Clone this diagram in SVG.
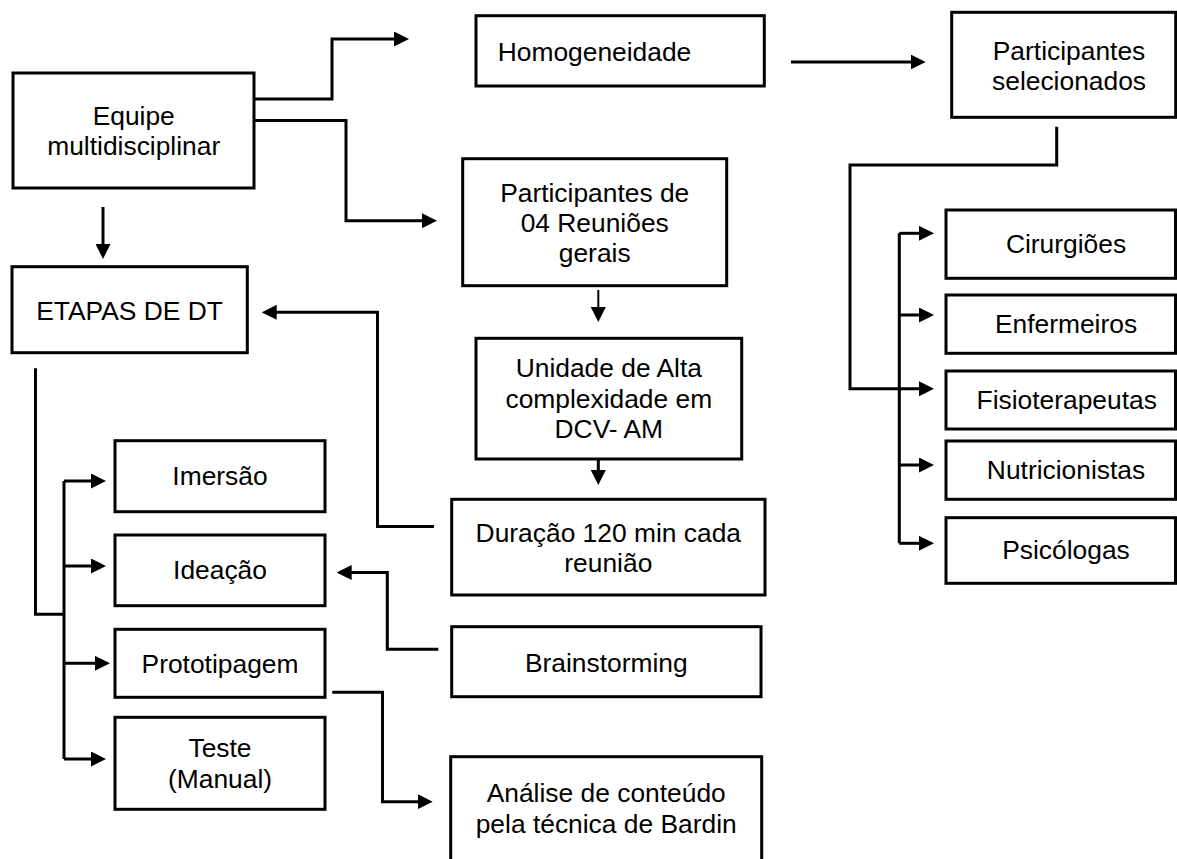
<svg xmlns="http://www.w3.org/2000/svg" width="1177" height="859" viewBox="0 0 1177 859">
<style>
.box{fill:#fff;stroke:#000;stroke-width:3}
.t{font-family:"Liberation Sans",Arial,sans-serif;font-size:25px;fill:#000;text-anchor:middle}
.ts{font-family:"Liberation Sans",Arial,sans-serif;font-size:25px;fill:#000;text-anchor:start}
.c{fill:none;stroke:#000;stroke-width:3;marker-end:url(#ah)}
.cn{fill:none;stroke:#000;stroke-width:3}
.thin{fill:none;stroke:#000;stroke-width:2;marker-end:url(#ah)}
</style>
<defs>
<marker id="ah" markerUnits="userSpaceOnUse" viewBox="0 0 15 15" markerWidth="15" markerHeight="15" refX="5" refY="7.5" orient="auto">
<path d="M0,0 L15,7.5 L0,15 Z" fill="#000"/>
</marker>
</defs>
<rect width="1177" height="859" fill="#fff"/>
<g id="connectors">
<path class="c" d="M254,99 H332 V39 H399"/>
<path class="c" d="M254,120.5 H346 V220.7 H427"/>
<path class="c" d="M103,207 V249"/>
<path class="c" d="M791,62 H915.7"/>
<path class="thin" d="M598.3,290 V312"/>
<path class="c" d="M598.3,459 V475"/>
<path class="c" d="M434,526.5 H377.5 V312.3 H271.7"/>
<path class="c" d="M438.3,649.3 H387.3 V572.5 H346.7"/>
<path class="c" d="M332.3,692.3 H382.5 V801.7 H422.7"/>
<path class="cn" d="M35.5,368.3 V614.3 H64"/>
<path class="cn" d="M64,481 V759"/>
<path class="c" d="M64,481 H96"/>
<path class="c" d="M64,566 H96"/>
<path class="c" d="M64,663.3 H100"/>
<path class="c" d="M64,759 H96"/>
<path class="c" d="M1056.7,126.7 V165 H850 V388.8 H924"/>
<path class="cn" d="M899.3,233.3 V543.3"/>
<path class="c" d="M899.3,233.3 H924"/>
<path class="c" d="M899.3,315 H924"/>
<path class="c" d="M899.3,465 H924"/>
<path class="c" d="M899.3,543.3 H924"/>
</g>
<g id="equipe">
<rect class="box" x="13" y="73" width="241" height="115"/>
<text class="t" transform="translate(133.7 0) scale(1.056 1)"><tspan x="0" y="125">Equipe</tspan><tspan x="0" y="155">multidisciplinar</tspan></text>
</g>
<g id="homogeneidade">
<rect class="box" x="476" y="15.7" width="288.3" height="70.3"/>
<text class="ts" transform="translate(497.7 0) scale(1.056 1)" x="0" y="61">Homogeneidade</text>
</g>
<g id="participantes-selecionados">
<rect class="box" x="951.7" y="12.3" width="224" height="105"/>
<text class="t" transform="translate(1069 0) scale(1.056 1)"><tspan x="0" y="60">Participantes</tspan><tspan x="0" y="90">selecionados</tspan></text>
</g>
<g id="participantes-reunioes">
<rect class="box" x="462.7" y="158.7" width="264" height="127"/>
<text class="t" transform="translate(594.7 0) scale(1.056 1)"><tspan x="0" y="201.7">Participantes de</tspan><tspan x="0" y="231.7">04 Reuniões</tspan><tspan x="0" y="261.7">gerais</tspan></text>
</g>
<g id="unidade">
<rect class="box" x="476" y="338.3" width="265.7" height="120.7"/>
<text class="t" transform="translate(608.8 0) scale(1.056 1)"><tspan x="0" y="377.3">Unidade de Alta</tspan><tspan x="0" y="407.7">complexidade em</tspan><tspan x="0" y="438.3">DCV- AM</tspan></text>
</g>
<g id="duracao">
<rect class="box" x="451.7" y="499.3" width="313.3" height="95.7"/>
<text class="t" transform="translate(608.3 0) scale(1.056 1)"><tspan x="0" y="542.3">Duração 120 min cada</tspan><tspan x="0" y="571.7">reunião</tspan></text>
</g>
<g id="brainstorming">
<rect class="box" x="451.7" y="626.7" width="309.3" height="70"/>
<text class="t" transform="translate(606.3 0) scale(1.056 1)" x="0" y="672">Brainstorming</text>
</g>
<g id="analise">
<rect class="box" x="450.7" y="756.7" width="311" height="110"/>
<text class="t" transform="translate(606.2 0) scale(1.056 1)"><tspan x="0" y="801.7">Análise de conteúdo</tspan><tspan x="0" y="833.3">pela técnica de Bardin</tspan></text>
</g>
<g id="etapas">
<rect class="box" x="12" y="266.7" width="235.3" height="86"/>
<text class="t" transform="translate(129.5 0) scale(1.056 1)" x="0" y="320">ETAPAS DE DT</text>
</g>
<g id="imersao">
<rect class="box" x="115" y="440.7" width="210" height="71"/>
<text class="t" transform="translate(220 0) scale(1.056 1)" x="0" y="485">Imersão</text>
</g>
<g id="ideacao">
<rect class="box" x="115" y="535" width="210" height="70.7"/>
<text class="t" transform="translate(220 0) scale(1.056 1)" x="0" y="579">Ideação</text>
</g>
<g id="prototipagem">
<rect class="box" x="115" y="629.3" width="210" height="68"/>
<text class="t" transform="translate(220 0) scale(1.056 1)" x="0" y="673.3">Prototipagem</text>
</g>
<g id="teste">
<rect class="box" x="115" y="717.3" width="210" height="92"/>
<text class="t" transform="translate(220 0) scale(1.056 1)"><tspan x="0" y="757.3">Teste</tspan><tspan x="0" y="788.3">(Manual)</tspan></text>
</g>
<g id="cirurgioes">
<rect class="box" x="946" y="210" width="229.5" height="68.3"/>
<text class="t" transform="translate(1066 0) scale(1.056 1)" x="0" y="253">Cirurgiões</text>
</g>
<g id="enfermeiros">
<rect class="box" x="946" y="295" width="229.5" height="58.3"/>
<text class="t" transform="translate(1066 0) scale(1.056 1)" x="0" y="333">Enfermeiros</text>
</g>
<g id="fisioterapeutas">
<rect class="box" x="946" y="371" width="229.5" height="58"/>
<text class="t" transform="translate(1066.7 0) scale(1.056 1)" x="0" y="409">Fisioterapeutas</text>
</g>
<g id="nutricionistas">
<rect class="box" x="946" y="441" width="229.5" height="58.3"/>
<text class="t" transform="translate(1066 0) scale(1.056 1)" x="0" y="479">Nutricionistas</text>
</g>
<g id="psicologas">
<rect class="box" x="946" y="517.7" width="229.5" height="65.6"/>
<text class="t" transform="translate(1066 0) scale(1.056 1)" x="0" y="559">Psicólogas</text>
</g>
</svg>
